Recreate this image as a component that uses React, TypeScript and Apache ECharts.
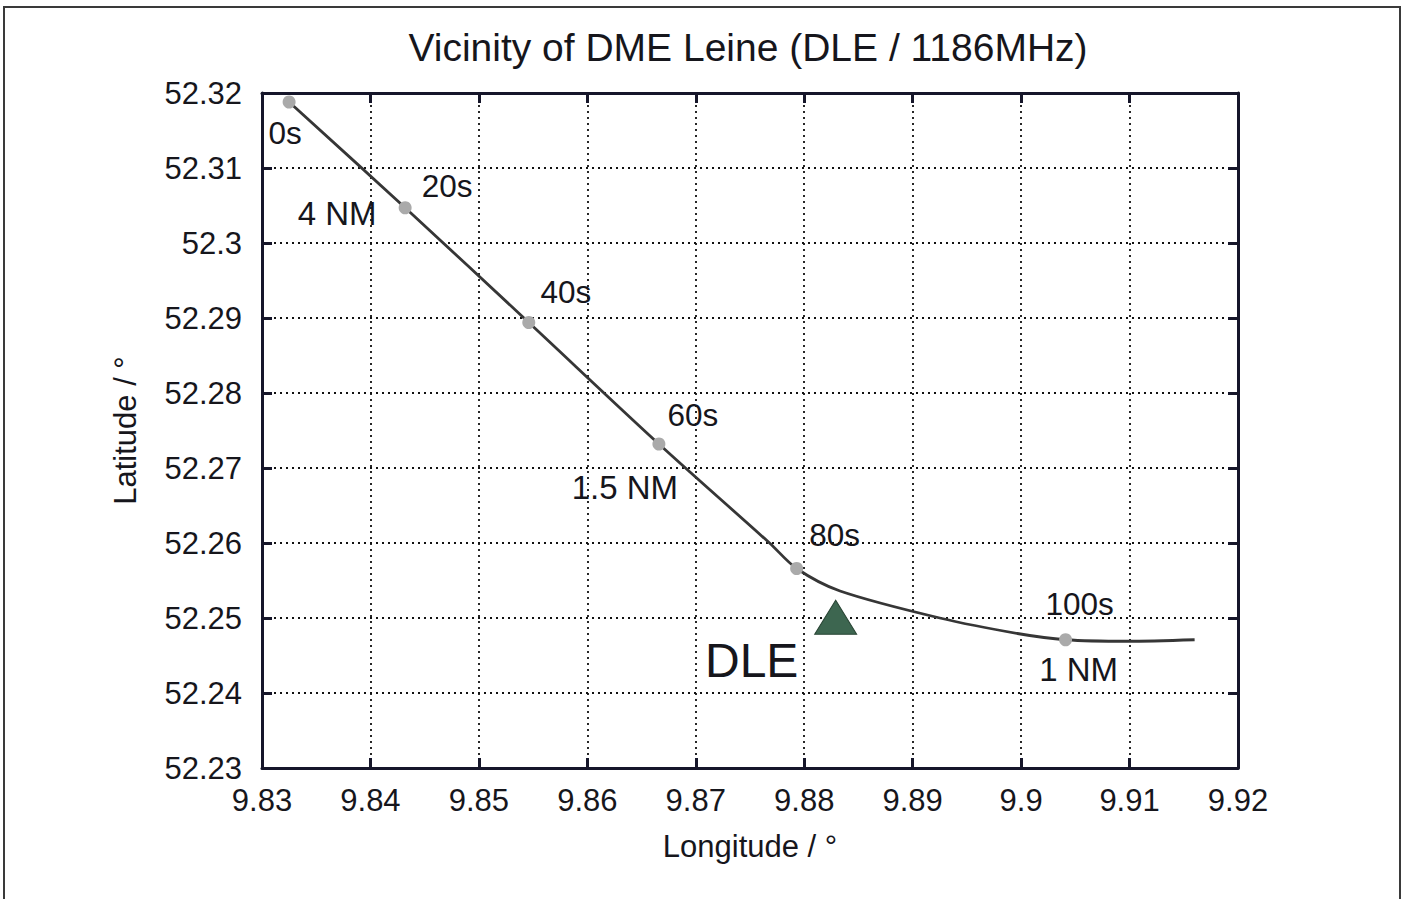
import React, { useEffect, useRef } from "react";
import * as echarts from "echarts";

// Flight track near the DME station (longitude / latitude in degrees)
const trackLon = [9.8325, 9.8432, 9.8546, 9.8666, 9.8768, 9.8793, 9.8833, 9.8925, 9.8998, 9.9041, 9.9098, 9.916];
const trackLat = [52.3188, 52.3047, 52.2894, 52.2732, 52.26, 52.2566, 52.2536, 52.25, 52.2479, 52.2471, 52.2469, 52.2471];

// Time marks every 20 s along the track
const markLon = [9.8325, 9.8432, 9.8546, 9.8666, 9.8793, 9.9041];
const markLat = [52.3188, 52.3047, 52.2894, 52.2732, 52.2566, 52.2471];
const timeLabels = ["0s", "20s", "40s", "60s", "80s", "100s"];
const rangeLabels = ["", "4 NM", "", "1.5 NM", "", "1 NM"];

// Ground station
const stationLon = 9.8829;
const stationLat = 52.2501;
const stationName = "DLE";

// Axis ranges and ticks
const lonMin = 9.83;
const lonMax = 9.92;
const latMin = 52.23;
const latMax = 52.32;
const tickStep = 0.01;

const titleText = "Vicinity of DME Leine (DLE / 1186MHz)";
const lonName = "Longitude / °";
const latName = "Latitude / °";

// Label placement relative to each mark (pixels)
const timeOffsets = [[-4, 31], [42, -22], [37, -31], [34, -29], [38, -34], [14, -36]];
const rangeOffsets = [[0, 0], [-68, 6], [0, 0], [-34, 43], [0, 0], [13, 30]];

const FONT = "'Liberation Sans', Arial, Helvetica, sans-serif";
const INK = "#16161c";
const FRAME = "#16162a";

export default function App() {
  const ref = useRef<HTMLDivElement>(null);

  useEffect(() => {
    if (!ref.current) return;
    const chart = echarts.init(ref.current, undefined, { renderer: "svg" });

    const axisLine = { show: true, lineStyle: { color: FRAME, width: 3 } };
    const axisTick = { show: true, inside: true, length: 10, lineStyle: { color: FRAME, width: 3 } };
    const splitLine = { show: true, lineStyle: { color: "#111111", width: 1.8, type: [2, 4] as any } };
    const labelText = {
      fontFamily: FONT,
      color: INK,
      textBorderWidth: 0,
      textBorderColor: "transparent",
    };

    chart.setOption({
      animation: false,
      backgroundColor: "#ffffff",
      grid: { left: 262, right: 168, top: 93, bottom: 131, containLabel: false },
      graphic: [
        {
          type: "rect",
          shape: { x: 4, y: 7, width: 1396, height: 1000 },
          style: { fill: "none", stroke: "#3a3a3a", lineWidth: 2 },
          silent: true,
        },
        {
          type: "text",
          x: 748,
          y: 47,
          style: {
            text: titleText,
            fontFamily: FONT,
            fontSize: 39,
            fill: INK,
            textAlign: "center",
            textVerticalAlign: "middle",
          },
          silent: true,
        },
      ],
      xAxis: [
        {
          type: "value",
          min: lonMin,
          max: lonMax,
          interval: tickStep,
          position: "bottom",
          name: lonName,
          nameLocation: "middle",
          nameGap: 63,
          nameTextStyle: { fontFamily: FONT, fontSize: 31, color: INK },
          axisLine,
          axisTick,
          splitLine,
          axisLabel: { fontFamily: FONT, fontSize: 31, color: INK, margin: 17 },
        },
        {
          type: "value",
          min: lonMin,
          max: lonMax,
          interval: tickStep,
          position: "top",
          axisLine,
          axisTick,
          splitLine: { show: false },
          axisLabel: { show: false },
        },
      ],
      yAxis: [
        {
          type: "value",
          min: latMin,
          max: latMax,
          interval: tickStep,
          position: "left",
          name: latName,
          nameLocation: "middle",
          nameGap: 121,
          nameTextStyle: { fontFamily: FONT, fontSize: 31, color: INK },
          axisLine,
          axisTick,
          splitLine,
          axisLabel: { fontFamily: FONT, fontSize: 31, color: INK, margin: 20 },
        },
        {
          type: "value",
          min: latMin,
          max: latMax,
          interval: tickStep,
          position: "right",
          axisLine,
          axisTick,
          splitLine: { show: false },
          axisLabel: { show: false },
        },
      ],
      series: [
        {
          name: "track",
          type: "line",
          data: trackLon.map((lon, i) => [lon, trackLat[i]]),
          showSymbol: false,
          smooth: 0.3,
          lineStyle: { color: "#363636", width: 2.8 },
          silent: true,
          z: 2,
        },
        {
          name: "time",
          type: "scatter",
          symbol: "circle",
          symbolSize: 13,
          itemStyle: { color: "#aaaaaa", opacity: 1 },
          data: markLon.map((lon, i) => ({
            value: [lon, markLat[i]],
            label: {
              show: true,
              formatter: timeLabels[i],
              position: "inside",
              offset: timeOffsets[i],
              fontSize: 31.5,
              ...labelText,
            },
          })),
          silent: true,
          z: 3,
        },
        {
          name: "range",
          type: "scatter",
          symbol: "circle",
          symbolSize: 1,
          itemStyle: { color: "transparent", opacity: 1 },
          data: markLon
            .map((lon, i) => ({ i, lon }))
            .filter(({ i }) => rangeLabels[i] !== "")
            .map(({ i, lon }) => ({
              value: [lon, markLat[i]],
              label: {
                show: true,
                formatter: rangeLabels[i],
                position: "inside",
                offset: rangeOffsets[i],
                fontSize: 33,
                ...labelText,
              },
            })),
          silent: true,
          z: 4,
        },
        {
          name: "station",
          type: "scatter",
          symbol: "triangle",
          symbolSize: [42, 34],
          itemStyle: { color: "#3d6650", borderColor: "#2a4636", borderWidth: 1, opacity: 1 },
          data: [
            {
              value: [stationLon, stationLat],
              label: {
                show: true,
                formatter: stationName,
                position: "inside",
                offset: [-84, 43],
                fontSize: 48,
                ...labelText,
              },
            },
          ],
          silent: true,
          z: 4,
        },
      ],
    });

    return () => chart.dispose();
  }, []);

  return (
    <div
      ref={ref}
      style={{ position: "fixed", left: 0, top: 0, width: 1406, height: 899, background: "#fff" }}
    />
  );
}
